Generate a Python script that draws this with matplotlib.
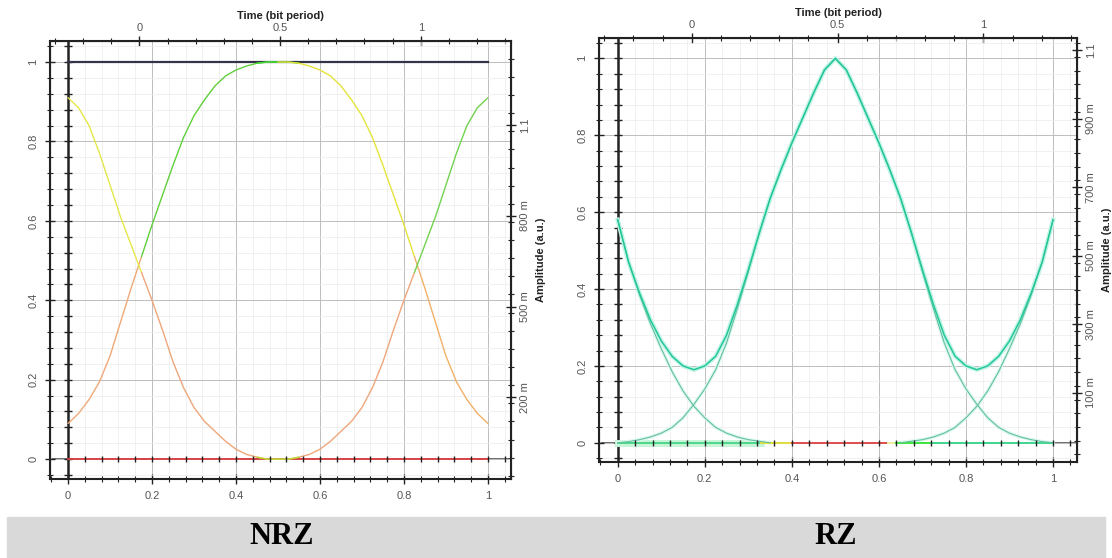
import numpy as np
import matplotlib.pyplot as plt
from matplotlib.patches import Rectangle
from matplotlib.ticker import MultipleLocator, FixedLocator, FixedFormatter, FuncFormatter

plt.rcParams['font.family'] = ['Liberation Sans', 'DejaVu Sans']

# sample instants (bit period), read every 0.025
t = [0.0, 0.025, 0.05, 0.075, 0.1, 0.125, 0.15, 0.175, 0.2, 0.225,
     0.25, 0.275, 0.3, 0.325, 0.35, 0.375, 0.4, 0.425, 0.45, 0.475,
     0.5, 0.525, 0.55, 0.575, 0.6, 0.625, 0.65, 0.675, 0.7, 0.725,
     0.75, 0.775, 0.8, 0.825, 0.85, 0.875, 0.9, 0.925, 0.95, 0.975, 1.0]

# NRZ eye traces
nrz_rise = [0.09, 0.115, 0.15, 0.195, 0.26, 0.345, 0.43, 0.51, 0.59, 0.665,
            0.74, 0.81, 0.865, 0.905, 0.94, 0.965, 0.98, 0.99, 0.997, 1.0,
            1.0, 1.0, 0.997, 0.99, 0.98, 0.965, 0.94, 0.905, 0.865, 0.81,
            0.74, 0.665, 0.59, 0.51, 0.43, 0.345, 0.26, 0.195, 0.15, 0.115, 0.09]
nrz_fall = [0.91, 0.885, 0.84, 0.77, 0.69, 0.61, 0.54, 0.47, 0.40, 0.325,
            0.245, 0.18, 0.13, 0.095, 0.07, 0.045, 0.025, 0.012, 0.005, 0.0,
            0.0, 0.0, 0.005, 0.012, 0.025, 0.045, 0.07, 0.095, 0.13, 0.18,
            0.245, 0.325, 0.40, 0.47, 0.54, 0.61, 0.69, 0.77, 0.84, 0.885, 0.91]
nrz_level_t = [0.0, 1.0]
nrz_one = [1.0, 1.0]
nrz_zero = [0.0, 0.0]

# RZ eye traces
rz_main = [0.58, 0.47, 0.39, 0.32, 0.265, 0.225, 0.2, 0.19, 0.2, 0.225,
           0.28, 0.36, 0.45, 0.545, 0.635, 0.71, 0.78, 0.845, 0.91, 0.97,
           1.0, 0.97, 0.91, 0.845, 0.78, 0.71, 0.635, 0.545, 0.45, 0.36,
           0.28, 0.225, 0.2, 0.19, 0.2, 0.225, 0.265, 0.32, 0.39, 0.47, 0.58]
rz_single = [0.0, 0.003, 0.008, 0.015, 0.025, 0.04, 0.065, 0.1, 0.14, 0.19,
             0.26, 0.35, 0.445, 0.545, 0.635, 0.71, 0.78, 0.845, 0.91, 0.97,
             1.0, 0.97, 0.91, 0.845, 0.78, 0.71, 0.635, 0.545, 0.445, 0.35,
             0.26, 0.19, 0.14, 0.1, 0.065, 0.04, 0.025, 0.015, 0.008, 0.003, 0.0]
rz_tail_left = [0.58, 0.47, 0.385, 0.31, 0.245, 0.185, 0.135, 0.095, 0.065, 0.04,
                0.025, 0.015, 0.008, 0.004, 0.0]
rz_tail_right = [0.0, 0.004, 0.008, 0.015, 0.025, 0.04, 0.065, 0.095, 0.135, 0.185,
                 0.245, 0.31, 0.385, 0.47, 0.58]
rz_zero_t = [0.0, 0.33, 0.40, 0.62, 0.64, 0.72, 1.0]
rz_zero_colors = ['#4cd88a', '#e2e040', '#e05050', '#f4f0a0', '#3ee83e', '#40d890']

nrz_right_ticks = [0.2, 0.5, 0.8, 1.1]
nrz_right_labels = ['200 m', '500 m', '800 m', '1.1']
rz_right_ticks = [0.1, 0.3, 0.5, 0.7, 0.9, 1.1]
rz_right_labels = ['100 m', '300 m', '500 m', '700 m', '900 m', '1.1']


def num(v, pos=None):
    if abs(v) < 1e-9:
        return '0'
    return f'{v:g}'


def style_panel(ax, rb, ra, rticks, rlabels, rminor):
    ax.set_xlim(-0.043, 1.055)
    ax.set_ylim(-0.05, 1.053)
    ax.xaxis.set_major_locator(MultipleLocator(0.2))
    ax.xaxis.set_minor_locator(MultipleLocator(0.04))
    ax.yaxis.set_major_locator(MultipleLocator(0.2))
    ax.yaxis.set_minor_locator(MultipleLocator(0.04))
    ax.xaxis.set_major_formatter(FuncFormatter(num))
    ax.yaxis.set_major_formatter(FuncFormatter(num))
    ax.grid(which='major', color='#bdbdbd', lw=0.7)
    ax.grid(which='minor', color='#ebebeb', lw=0.5)
    ax.tick_params(which='both', direction='inout', color='#222', labelcolor='#555', labelsize=8)
    ax.tick_params(which='major', length=7, width=1, pad=5)
    ax.tick_params(which='minor', length=4, width=0.8)
    ax.tick_params(axis='y', labelrotation=90)
    for lab in ax.get_yticklabels():
        lab.set_va('center')
    for s in ax.spines.values():
        s.set_color('#222')
        s.set_linewidth(1.5)

    # inner axis lines through the origin
    ax.axvline(0, color='#222', lw=1.8, zorder=3)
    ax.axhline(0, color='#555', lw=1.2, zorder=1.5)
    ylocs = sorted(list(ax.yaxis.get_majorticklocs()) + list(ax.yaxis.get_minorticklocs()))
    ylocs = [v for v in ylocs if -0.05 <= v <= 1.053]
    ax.plot([0] * len(ylocs), ylocs, ls='none', marker='_', ms=6, mew=1, color='#222', zorder=4)
    xlocs = sorted(list(ax.xaxis.get_majorticklocs()) + list(ax.xaxis.get_minorticklocs()))
    xlocs = [v for v in xlocs if 0 < v <= 1.05]
    ax.plot(xlocs, [0] * len(xlocs), ls='none', marker='|', ms=5, mew=1, color='#222', zorder=7)

    top = ax.secondary_xaxis('top', functions=(lambda x: (x - 0.17) / 0.67, lambda u: u * 0.67 + 0.17))
    top.xaxis.set_major_locator(FixedLocator([0, 0.5, 1]))
    top.xaxis.set_minor_locator(MultipleLocator(0.1))
    top.xaxis.set_major_formatter(FuncFormatter(num))
    top.tick_params(which='both', direction='inout', color='#222', labelcolor='#555', labelsize=8)
    top.tick_params(which='major', length=7, width=1, pad=2)
    top.tick_params(which='minor', length=4, width=0.8)
    top.set_xlabel('Time (bit period)', fontweight='bold', fontsize=8, color='#222', labelpad=3)

    right = ax.secondary_yaxis('right', functions=(lambda y: rb * y + ra, lambda r: (r - ra) / rb))
    right.yaxis.set_major_locator(FixedLocator(rticks))
    right.yaxis.set_major_formatter(FixedFormatter(rlabels))
    right.yaxis.set_minor_locator(MultipleLocator(rminor))
    right.tick_params(which='both', direction='inout', color='#222', labelcolor='#555', labelsize=8)
    right.tick_params(which='major', length=7, width=1, pad=3)
    right.tick_params(which='minor', length=4, width=0.8)
    right.tick_params(axis='y', labelrotation=90)
    for lab in right.get_yticklabels():
        lab.set_va('center')
    right.set_ylabel('Amplitude (a.u.)', fontweight='bold', fontsize=8, color='#222', labelpad=4)


def seg_plot(ax, x, y, pieces, lw):
    x = np.asarray(x)
    y = np.asarray(y)
    for lo, hi, color in pieces:
        m = (x >= lo - 1e-9) & (x <= hi + 1e-9)
        ax.plot(x[m], y[m], color=color, lw=lw, solid_capstyle='round', zorder=5)


fig = plt.figure(figsize=(11.12, 5.58), dpi=100)

# ---- NRZ ----
ax1 = fig.add_axes([50 / 1112, 1 - 479 / 558, 461 / 1112, 438 / 558])
style_panel(ax1, 1.314, -0.005, nrz_right_ticks, nrz_right_labels, 0.06)
ax1.plot(nrz_level_t, nrz_one, color='#33334a', lw=1.6, zorder=5)
ax1.plot(nrz_level_t, nrz_zero, color='#e04040', lw=1.3, zorder=5)
seg_plot(ax1, t, nrz_rise, [(0, 0.175, '#f0a878'), (0.175, 0.5, '#5fcf3a'),
                            (0.45, 0.55, '#44dd33'),
                            (0.5, 0.825, '#e4e43c'), (0.825, 1, '#f2b068')], 1.0)
seg_plot(ax1, t, nrz_fall, [(0, 0.175, '#e6e64a'), (0.175, 0.825, '#efa67a'),
                            (0.45, 0.55, '#b8e030'), (0.825, 1, '#72d24e')], 1.0)

# ---- RZ ----
ax2 = fig.add_axes([599 / 1112, 1 - 462 / 558, 478 / 1112, 424 / 558])
style_panel(ax2, 1.122, -0.046, rz_right_ticks, rz_right_labels, 0.04)
ax2.plot(rz_zero_t[:2], [0, 0], color='#c8f5d8', lw=5, zorder=4)
for i, c in enumerate(rz_zero_colors):
    ax2.plot(rz_zero_t[i:i + 2], [0, 0], color=c, lw=1.4, zorder=5)
for xs, ys in [(t, rz_single), (t[:15], rz_tail_left), (t[26:], rz_tail_right)]:
    ax2.plot(xs, ys, color='#dcf7ef', lw=2.5, zorder=4)
    ax2.plot(xs, ys, color='#62c09e', lw=0.8, zorder=5)
ax2.plot(t, rz_main, color='#c2f4e6', lw=3.2, zorder=4)
ax2.plot(t, rz_main, color='#22c79a', lw=1.1, zorder=6)

# caption band
fig.add_artist(Rectangle((7 / 1112, 0), 1098 / 1112, 41 / 558, transform=fig.transFigure,
                         color='#d9d9d9', zorder=0))
fig.text(282 / 1112, 21 / 558, 'NRZ', ha='center', va='center', fontsize=22,
         fontweight='bold', family=['Liberation Serif', 'DejaVu Serif'])
fig.text(836 / 1112, 21 / 558, 'RZ', ha='center', va='center', fontsize=22,
         fontweight='bold', family=['Liberation Serif', 'DejaVu Serif'])

fig.savefig('out.png', dpi=100)
